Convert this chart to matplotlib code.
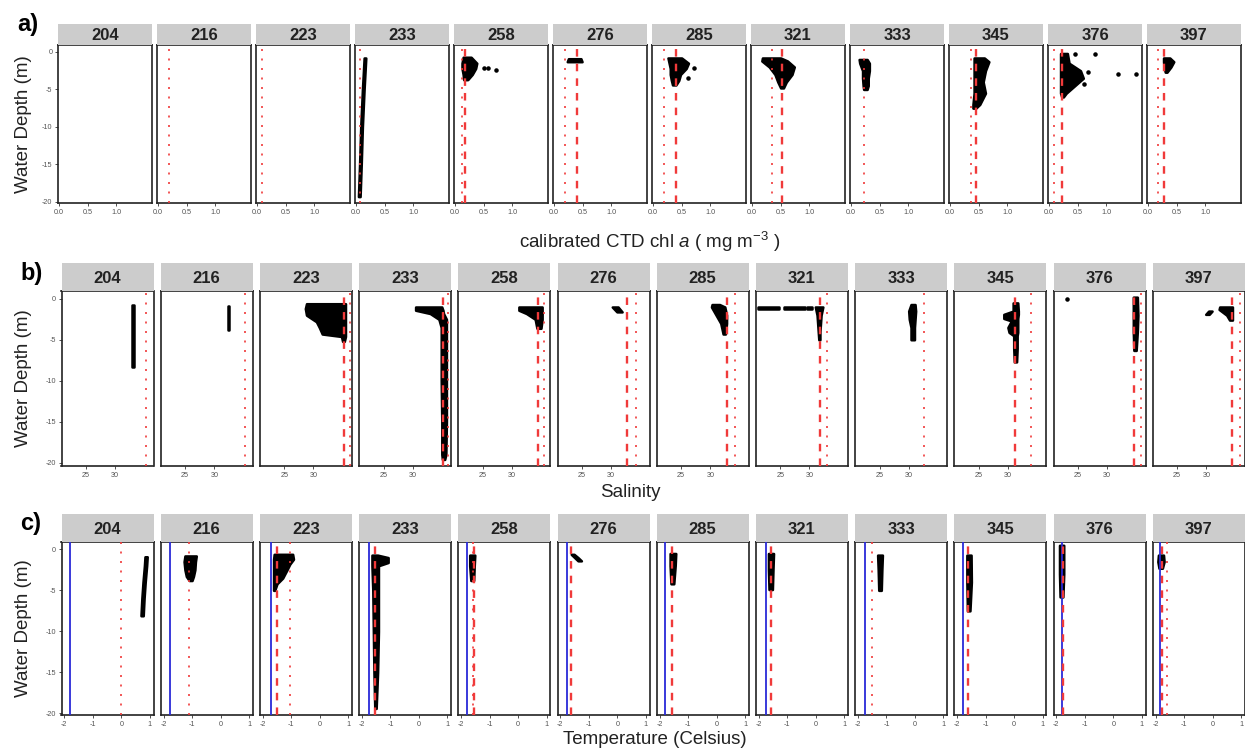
import numpy as np
import matplotlib
matplotlib.use('Agg')
import matplotlib.pyplot as plt

plt.rcParams['font.family'] = ['Liberation Sans', 'DejaVu Sans']
plt.rcParams['axes.unicode_minus'] = False
plt.rcParams['mathtext.fontset'] = 'custom'
plt.rcParams['mathtext.rm'] = 'Liberation Sans'
plt.rcParams['mathtext.it'] = 'Liberation Sans:italic'

stations = ['204', '216', '223', '233', '258', '276', '285', '321', '333', '345', '376', '397']

# reference lines (red dotted / red dashed), None = no line
chl_dotted = [None, 0.19, 0.09, 0.07, 0.12, 0.19, 0.19, 0.34, 0.22, 0.36, 0.09, 0.17]
chl_dashed = [None, None, None, None, 0.17, 0.40, 0.40, 0.53, None, 0.45, 0.22, 0.28]
sal_dotted = [35.3, 35.2, 36.2, 36.0, 35.5, 34.3, 34.2, 33.0, 32.6, 34.0, 35.9, 35.8]
sal_dashed = [None, None, 35.2, 35.2, 34.5, 32.8, 32.8, 31.8, None, 31.2, 34.7, 34.5]
temp_freeze = [-1.79, -1.78, -1.72, -1.74, -1.78, -1.78, -1.80, -1.74, -1.76, -1.80, -1.81, -1.84]
temp_dotted = [0.0, -1.12, -1.05, None, -1.6, None, None, None, -1.51, None, None, -1.61]
temp_dashed = [None, None, -1.49, -1.55, -1.55, -1.61, -1.58, -1.57, None, -1.61, -1.78, -1.78]

# profiles: per station a list of (depth, min value, max value)
chl_prof = [
    [], [], [],
    [([-0.8, -5, -10, -15, -19.3], [0.14, 0.11, 0.08, 0.06, 0.04], [0.17, 0.14, 0.11, 0.09, 0.07])],
    [([-0.7, -1.5, -2.2, -3.0, -3.7], [0.14, 0.12, 0.12, 0.14, 0.15], [0.28, 0.38, 0.36, 0.30, 0.22])],
    [([-0.9, -1.3], [0.25, 0.23], [0.47, 0.49])],
    [([-0.8, -1.5, -2.2, -3.0, -3.8, -4.4], [0.26, 0.28, 0.30, 0.30, 0.32, 0.34], [0.50, 0.62, 0.58, 0.48, 0.45, 0.40])],
    [([-0.8, -1.2, -2.0, -3.0, -4.0, -4.8], [0.18, 0.17, 0.30, 0.40, 0.45, 0.50], [0.50, 0.62, 0.74, 0.70, 0.60, 0.55])],
    [([-1.0, -1.5, -2.5, -3.5, -4.5, -5.0], [0.14, 0.15, 0.20, 0.20, 0.21, 0.22], [0.28, 0.32, 0.32, 0.30, 0.30, 0.28])],
    [([-0.8, -1.3, -2.5, -4.0, -5.5, -7.0, -7.5], [0.42, 0.42, 0.42, 0.42, 0.42, 0.40, 0.40], [0.60, 0.68, 0.62, 0.58, 0.62, 0.52, 0.45])],
    [([-0.2, -1.5, -2.5, -3.5, -4.5, -5.5, -6.0], [0.20, 0.20, 0.20, 0.20, 0.20, 0.20, 0.22], [0.32, 0.35, 0.55, 0.60, 0.45, 0.30, 0.25])],
    [([-0.8, -1.3, -2.0, -2.7], [0.27, 0.27, 0.28, 0.30], [0.38, 0.45, 0.40, 0.33])],
]
chl_pts = [[], [], [], [],
           [(0.50, -2.2), (0.58, -2.2), (0.72, -2.4)], [],
           [(0.72, -2.2), (0.62, -3.5)], [], [], [],
           [(0.45, -0.3), (0.80, -0.3), (0.68, -2.7), (1.20, -3.0), (1.53, -3.0), (0.62, -4.3)], []]

sal_prof = [
    [([-0.7, -8.3], [32.9, 32.9], [33.2, 33.2])],
    [([-0.9, -3.8], [32.3, 32.3], [32.6, 32.6])],
    [([-0.6, -1.2, -2.0, -2.8, -3.5, -4.3, -4.6, -5.2], [28.8, 28.6, 28.8, 30.5, 31.0, 31.5, 34.8, 35.0], [35.5, 35.5, 35.5, 35.5, 35.5, 35.5, 35.5, 35.3])],
    [([-1.0, -1.4, -1.8, -2.5, -3.5, -6, -10, -15, -19.0, -19.6], [30.5, 30.5, 33.0, 34.5, 34.9, 34.9, 34.9, 35.0, 35.0, 35.1], [35.0, 35.2, 35.3, 35.8, 35.8, 35.8, 35.8, 35.8, 35.7, 35.5])],
    [([-1.0, -1.4, -1.8, -2.5, -3.6], [31.2, 31.2, 32.5, 34.0, 34.3], [35.2, 35.2, 35.2, 35.2, 35.0])],
    [([-1.0, -1.6], [30.2, 31.0], [31.2, 31.9])],
    [([-0.7, -1.0, -2.0, -3.0, -4.3], [30.3, 30.2, 31.0, 31.8, 32.2], [31.6, 32.5, 32.8, 32.8, 32.6])],
    [([-1.0, -2.0, -3.0, -4.0, -5.0], [31.0, 31.3, 31.4, 31.5, 31.6], [32.3, 32.0, 31.9, 31.8, 31.8]),
     ([-1.0, -1.3], [21.2, 21.2], [24.8, 24.8]),
     ([-1.0, -1.3], [25.7, 25.7], [29.2, 29.2]),
     ([-1.0, -1.3], [29.5, 29.5], [30.4, 30.4])],
    [([-0.7, -1.5, -2.5, -3.5, -5.0], [30.4, 30.0, 30.1, 30.4, 30.4], [31.1, 31.2, 31.1, 31.0, 31.0])],
    [([-0.5, -1.5, -1.9, -2.4, -2.7, -3.1, -3.5, -4.1, -4.5, -6.0, -7.7], [30.9, 30.9, 29.3, 29.3, 30.6, 30.3, 30.0, 30.2, 31.0, 31.0, 31.1], [31.7, 31.8, 31.8, 31.7, 31.7, 31.7, 31.7, 31.7, 31.6, 31.6, 31.5])],
    [([0.2, -2.0, -4.0, -6.3], [34.5, 34.5, 34.5, 34.6], [35.2, 35.3, 35.2, 35.0])],
    [([-1.5, -1.9], [30.4, 29.9], [31.0, 30.5]),
     ([-1.0, -1.3, -2.0, -2.6], [32.3, 32.2, 33.5, 34.0], [34.5, 34.5, 34.5, 34.5])],
]
sal_pts = [[], [], [], [], [], [], [], [], [], [], [(23.1, 0.0)], []]

temp_prof = [
    [([-0.9, -2, -4, -6, -8.1], [0.83, 0.81, 0.76, 0.72, 0.69], [0.91, 0.89, 0.84, 0.80, 0.77])],
    [([-0.8, -1.5, -2.5, -3.3, -3.8], [-1.25, -1.28, -1.25, -1.20, -1.10], [-0.85, -0.88, -0.90, -0.95, -1.00])],
    [([-0.6, -1.2, -1.8, -2.5, -3.5, -4.2, -5.0], [-1.60, -1.62, -1.62, -1.62, -1.62, -1.62, -1.62], [-0.95, -0.92, -1.05, -1.15, -1.30, -1.50, -1.58])],
    [([-0.7, -1.0, -1.6, -2.0, -5, -10, -15, -19.4], [-1.65, -1.65, -1.65, -1.65, -1.62, -1.60, -1.58, -1.55], [-1.45, -1.08, -1.08, -1.42, -1.42, -1.42, -1.45, -1.50])],
    [([-0.7, -2.0, -3.8], [-1.70, -1.70, -1.66], [-1.52, -1.54, -1.56])],
    [([-0.6, -1.0, -1.4], [-1.62, -1.50, -1.38], [-1.52, -1.38, -1.26])],
    [([-0.5, -2.0, -4.2], [-1.63, -1.63, -1.60], [-1.43, -1.45, -1.50])],
    [([-0.5, -2.5, -4.9], [-1.66, -1.66, -1.64], [-1.48, -1.50, -1.52])],
    [([-0.7, -2.5, -5.0], [-1.31, -1.29, -1.27], [-1.14, -1.16, -1.18])],
    [([-0.7, -4.0, -7.5], [-1.66, -1.66, -1.64], [-1.51, -1.50, -1.55])],
    [([0.5, -3.0, -5.8], [-1.89, -1.89, -1.87], [-1.74, -1.74, -1.77])],
    [([-0.7, -1.5, -2.3], [-1.90, -1.92, -1.88], [-1.72, -1.70, -1.76])],
]
temp_pts = [[] for _ in stations]

W, H = 1245, 751
fig = plt.figure(figsize=(W / 100, H / 100), dpi=100, facecolor='white')


def px_axes(x0, y0, w, h):
    return fig.add_axes([x0 / W, 1 - (y0 + h) / H, w / W, h / H])


RED = '#f03a3a'
DOT = (0, (1.2, 4.5))
DASH = (0, (3.2, 3.0))


def draw_row(left0, step, width, top, bottom, strip_top, xlim, ylim, xticks, xticklabels,
             prof, pts, dotted, dashed, freeze=None):
    for i, st in enumerate(stations):
        x0 = left0 + i * step
        ax = px_axes(x0, top, width, bottom - top)
        for z, lo, hi in prof[i]:
            ax.fill_betweenx(z, lo, hi, facecolor='black', edgecolor='black', lw=1.8, zorder=2)
        if pts[i]:
            px, pz = zip(*pts[i])
            ax.scatter(px, pz, s=5, color='black', zorder=2)
        if freeze is not None:
            ax.axvline(freeze[i], color='#2a2ad8', lw=1.3, zorder=3)
        if dotted[i] is not None:
            ax.axvline(dotted[i], color=RED, lw=1.2, ls=DOT, zorder=4)
        if dashed[i] is not None:
            ax.axvline(dashed[i], color=RED, lw=1.7, ls=DASH, zorder=4)
        ax.set_xlim(xlim)
        ax.set_ylim(ylim)
        ax.set_xticks(xticks)
        ax.set_xticklabels(xticklabels)
        ax.tick_params(length=2.5, width=0.6, color='#333333', labelsize=5.2,
                       labelcolor='#555555', pad=1.5)
        if i == 0:
            ax.set_yticks([0, -5, -10, -15, -20])
            ax.set_yticklabels(['0', '-5', '-10', '-15', '-20'])
        else:
            ax.set_yticks([])
        for s in ax.spines.values():
            s.set_linewidth(1.2)
            s.set_color('#222222')
        sa = px_axes(x0, strip_top, width, top - strip_top)
        sa.set_facecolor('#cccccc')
        sa.set_xticks([])
        sa.set_yticks([])
        for s in sa.spines.values():
            s.set_visible(False)
        sa.text(0.5, 0.45, st, ha='center', va='center', fontsize=12,
                fontweight='bold', color='#222222', transform=sa.transAxes)


draw_row(58, 99.0, 94, 45, 203, 24, (-0.02, 1.63), (-20.15, 0.93),
         [0.0, 0.5, 1.0], ['0.0', '0.5', '1.0'], chl_prof, chl_pts, chl_dotted, chl_dashed)
draw_row(61.5, 99.2, 92, 291, 466, 263, (20.8, 36.6), (-20.4, 0.95),
         [25, 30], ['25', '30'], sal_prof, sal_pts, sal_dotted, sal_dashed)
draw_row(61.5, 99.2, 92, 542, 715, 514, (-2.1, 1.13), (-20.2, 0.9),
         [-2, -1, 0, 1], ['-2', '-1', '0', '1'], temp_prof, temp_pts, temp_dotted, temp_dashed,
         freeze=temp_freeze)

# panel letters, axis titles
for lab, xp, yp in [('a)', 17, 13), ('b)', 20, 262), ('c)', 20, 512)]:
    fig.text(xp / W, 1 - yp / H, lab, fontsize=17, fontweight='bold', va='top', ha='left')
for yc in [124, 378, 628]:
    fig.text(24 / W, 1 - yc / H, 'Water Depth (m)', rotation=90, fontsize=13.5,
             ha='center', va='center', color='#222222')
fig.text(650 / W, 1 - 242 / H, r'calibrated CTD chl $\mathit{a}$ ( mg m$^{-3}$ )',
         fontsize=13.5, ha='center', va='center', color='#222222')
fig.text(630 / W, 1 - 493 / H, 'Salinity', fontsize=13.5, ha='center', va='center', color='#222222')
fig.text(655 / W, 1 - 740 / H, 'Temperature (Celsius)', fontsize=13.5, ha='center', va='center',
         color='#222222')

fig.savefig('out.png', dpi=100, facecolor='white')
